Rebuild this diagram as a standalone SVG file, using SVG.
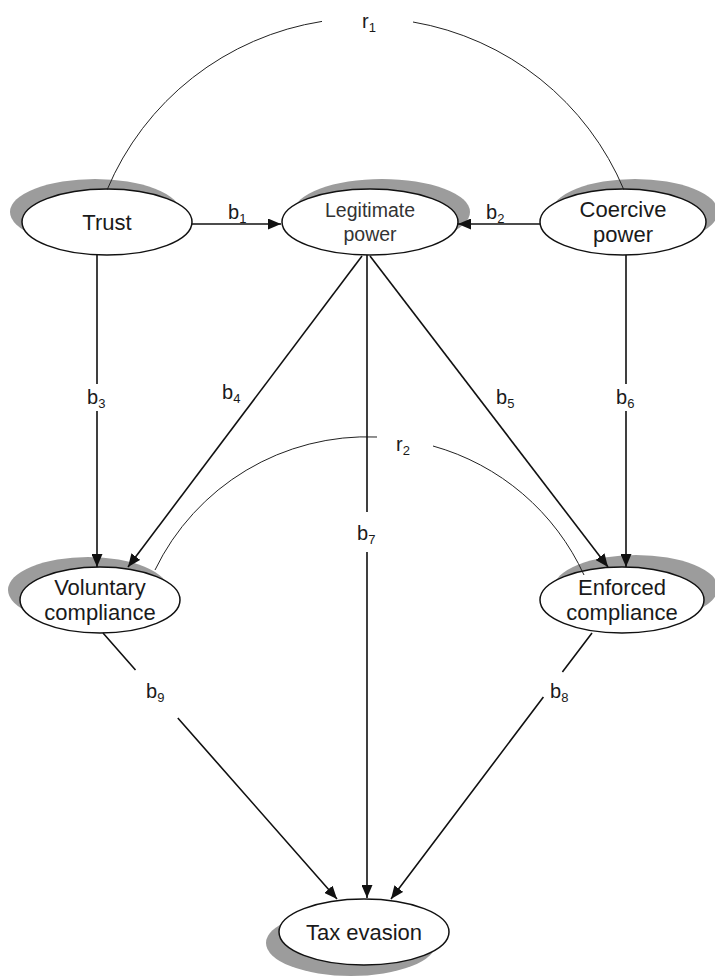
<svg xmlns="http://www.w3.org/2000/svg" width="715" height="977" viewBox="0 0 715 977">
<style>
.sh{fill:#9c9c9c;stroke:none}
.el{fill:#fff;stroke:#111;stroke-width:1.5}
.nt{font-family:"Liberation Sans",Arial,sans-serif;font-size:22px;fill:#1a1a1a;text-anchor:middle}
.lt{font-family:"Liberation Sans",Arial,sans-serif;font-size:20px;fill:#1a1a1a}
.ar{fill:none;stroke:#111;stroke-width:1.6;marker-end:url(#ah)}
.cr{fill:none;stroke:#222;stroke-width:1}
</style>
<defs>
<marker id="ah" viewBox="0 0 13 11" refX="13" refY="5.5" markerWidth="13" markerHeight="11" markerUnits="userSpaceOnUse" orient="auto">
<path d="M0,0 L13,5.5 L0,11 z" fill="#111"/>
</marker>
</defs>
<rect width="715" height="977" fill="#fff"/>

<g id="trust">
<ellipse class="sh" cx="95" cy="212" rx="85" ry="33"/>
<ellipse class="el" cx="107" cy="222" rx="85" ry="33"/>
<text class="nt" x="107" y="230">Trust</text>
</g>
<g id="legitimate">
<ellipse class="sh" cx="382" cy="212" rx="88" ry="33"/>
<ellipse class="el" cx="370" cy="222" rx="88" ry="33"/>
<text class="nt" style="font-size:19.5px;fill:#333" x="370" y="217">Legitimate</text>
<text class="nt" style="font-size:19.5px;fill:#333" x="370" y="241">power</text>
</g>
<g id="coercive">
<ellipse class="sh" cx="635" cy="212" rx="83" ry="33"/>
<ellipse class="el" cx="623" cy="222" rx="83" ry="33"/>
<text class="nt" x="623" y="217">Coercive</text>
<text class="nt" x="623" y="242">power</text>
</g>
<g id="voluntary">
<ellipse class="sh" cx="88" cy="590" rx="80" ry="33"/>
<ellipse class="el" cx="100" cy="600" rx="80" ry="33"/>
<text class="nt" x="100" y="595">Voluntary</text>
<text class="nt" x="100" y="620">compliance</text>
</g>
<g id="enforced">
<ellipse class="sh" cx="636" cy="588" rx="82" ry="33"/>
<ellipse class="el" cx="622" cy="600" rx="82" ry="33"/>
<text class="nt" x="622" y="595">Enforced</text>
<text class="nt" x="622" y="620">compliance</text>
</g>
<g id="taxevasion">
<ellipse class="sh" cx="351" cy="943" rx="85" ry="33"/>
<ellipse class="el" cx="364" cy="932" rx="85" ry="33"/>
<text class="nt" x="364" y="940">Tax evasion</text>
</g>

<g id="connectors">
<path class="cr" d="M107,190 A280.3,280.3 0 0 1 322,21.4"/>
<path class="cr" d="M413,22 A280.3,280.3 0 0 1 624,190"/>
<path class="cr" d="M155,570 A235.9,235.9 0 0 1 377,437"/>
<path class="cr" d="M433,446 A235.9,235.9 0 0 1 584,575"/>
<path class="ar" d="M192,224 L281,224"/>
<path class="ar" d="M540,224 L458,224"/>
<path class="ar" d="M97,255 V384 M97,411 V567"/>
<path class="ar" d="M362,256 L128,567"/>
<path class="ar" d="M370,256 L608,567"/>
<path class="ar" d="M626,255 V384 M626,411 V567"/>
<path class="ar" d="M367,255 V512 M367,552 V898"/>
<path class="ar" d="M103,633 L135.5,670 M177.8,718 L337,899"/>
<path class="ar" d="M592,633 L562.4,672 M543.4,697 L391,899"/>
</g>

<g id="labels">
<text class="lt" x="362" y="28">r<tspan dy="4" font-size="13">1</tspan></text>
<text class="lt" x="396" y="451">r<tspan dy="4" font-size="13">2</tspan></text>
<text class="lt" x="228" y="219">b<tspan dy="4" font-size="13">1</tspan></text>
<text class="lt" x="486" y="219">b<tspan dy="4" font-size="13">2</tspan></text>
<text class="lt" x="87" y="404">b<tspan dy="4" font-size="13">3</tspan></text>
<text class="lt" x="222" y="399">b<tspan dy="4" font-size="13">4</tspan></text>
<text class="lt" x="496" y="404">b<tspan dy="4" font-size="13">5</tspan></text>
<text class="lt" x="616" y="404">b<tspan dy="4" font-size="13">6</tspan></text>
<text class="lt" x="357" y="540">b<tspan dy="4" font-size="13">7</tspan></text>
<text class="lt" x="146" y="698">b<tspan dy="4" font-size="13">9</tspan></text>
<text class="lt" x="550" y="698">b<tspan dy="4" font-size="13">8</tspan></text>
</g>
</svg>
